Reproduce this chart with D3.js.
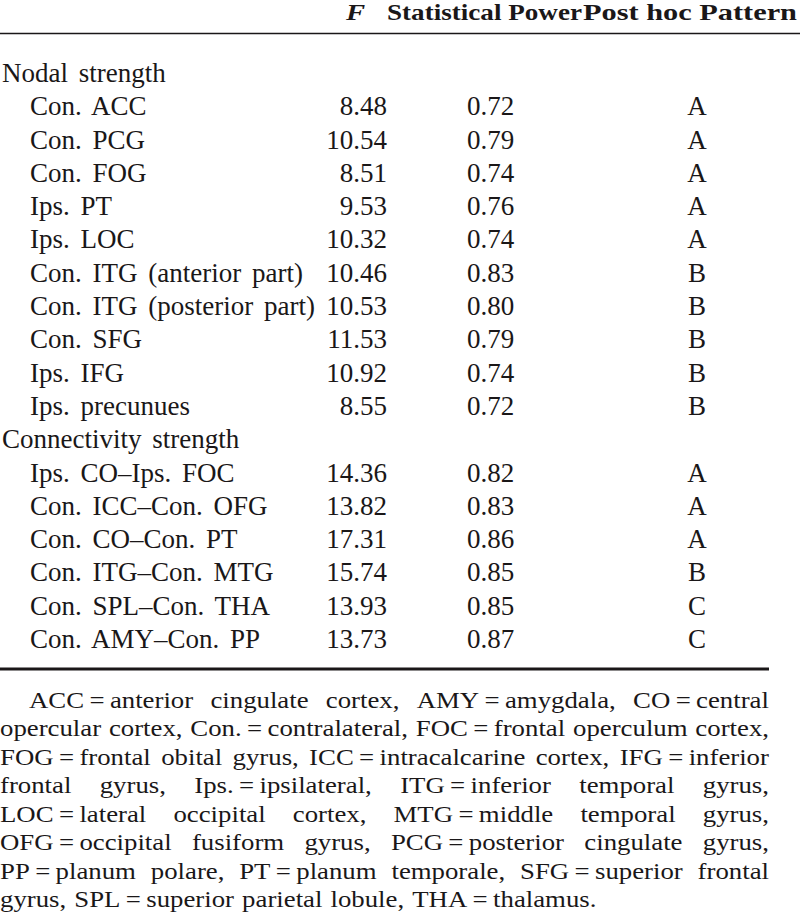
<!DOCTYPE html>
<html>
<head>
<meta charset="utf-8">
<script src="https://cdn.jsdelivr.net/npm/d3@7"></script>
<style>
  html, body { margin: 0; padding: 0; background: #fff; }
  svg { display: block; }
  text { font-family: "Liberation Serif", "Times New Roman", serif; fill: #1a1718; }
</style>
</head>
<body>
<svg id="chart" width="800" height="924"></svg>
<script>
// ---- data ----
const headers = ["F", "Statistical Power", "Post hoc Pattern"];
const sections = ["Nodal strength", "Connectivity strength"];
const nodalLabels = ["Con. ACC", "Con. PCG", "Con. FOG", "Ips. PT", "Ips. LOC",
  "Con. ITG (anterior part)", "Con. ITG (posterior part)", "Con. SFG", "Ips. IFG", "Ips. precunues"];
const nodalF = ["8.48", "10.54", "8.51", "9.53", "10.32", "10.46", "10.53", "11.53", "10.92", "8.55"];
const nodalPower = ["0.72", "0.79", "0.74", "0.76", "0.74", "0.83", "0.80", "0.79", "0.74", "0.72"];
const nodalPattern = ["A", "A", "A", "A", "A", "B", "B", "B", "B", "B"];
const connLabels = ["Ips. CO\u2013Ips. FOC", "Con. ICC\u2013Con. OFG", "Con. CO\u2013Con. PT",
  "Con. ITG\u2013Con. MTG", "Con. SPL\u2013Con. THA", "Con. AMY\u2013Con. PP"];
const connF = ["14.36", "13.82", "17.31", "15.74", "13.93", "13.73"];
const connPower = ["0.82", "0.83", "0.86", "0.85", "0.85", "0.87"];
const connPattern = ["A", "A", "A", "B", "C", "C"];
const footnoteLines = [
  "ACC\u2009=\u2009anterior cingulate cortex, AMY\u2009=\u2009amygdala, CO\u2009=\u2009central",
  "opercular cortex, Con.\u2009=\u2009contralateral, FOC\u2009=\u2009frontal operculum cortex,",
  "FOG\u2009=\u2009frontal obital gyrus, ICC\u2009=\u2009intracalcarine cortex, IFG\u2009=\u2009inferior",
  "frontal gyrus, Ips.\u2009=\u2009ipsilateral, ITG\u2009=\u2009inferior temporal gyrus,",
  "LOC\u2009=\u2009lateral occipital cortex, MTG\u2009=\u2009middle temporal gyrus,",
  "OFG\u2009=\u2009occipital fusiform gyrus, PCG\u2009=\u2009posterior cingulate gyrus,",
  "PP\u2009=\u2009planum polare, PT\u2009=\u2009planum temporale, SFG\u2009=\u2009superior frontal",
  "gyrus, SPL\u2009=\u2009superior parietal lobule, THA\u2009=\u2009thalamus."
];

// ---- build row table ----
const rows = [];
rows.push({type: "section", label: sections[0]});
nodalLabels.forEach((l, i) => rows.push({type: "row", label: l, f: nodalF[i], p: nodalPower[i], pat: nodalPattern[i]}));
rows.push({type: "section", label: sections[1]});
connLabels.forEach((l, i) => rows.push({type: "row", label: l, f: connF[i], p: connPower[i], pat: connPattern[i]}));

const svg = d3.select("#chart");
const SX = 1.0;        // horizontal stretch of body type
const NSX = 1.14;      // horizontal stretch of note type
const bodySize = 27;
const noteSize = 23.5;
const headSize = 23;

const y = d3.scaleLinear().domain([0, rows.length - 1]).range([82, 648]);
const col = d3.scaleOrdinal().domain(["section", "label", "f", "p", "pat"]).range([2, 30, 387, 467, 697]);

function put(sel, x, yy, sx) {
  return sel.attr("transform", `translate(${x},${yy}) scale(${sx},1)`);
}

// header
const hY = 20;
const hg = svg.append("g").style("font-weight", "bold").style("font-size", headSize + "px");
put(hg.append("text").text(headers[0]).style("font-style", "italic"), 346, hY, 1.25);
hg.append("text").text(headers[1]).attr("x", 387).attr("y", hY)
  .attr("textLength", 195).attr("lengthAdjust", "spacingAndGlyphs");
hg.append("text").text(headers[2]).attr("x", 583).attr("y", hY)
  .attr("textLength", 214).attr("lengthAdjust", "spacingAndGlyphs");

// rules
svg.append("line").attr("x1", 0).attr("x2", 800).attr("y1", 33.5).attr("y2", 33.5)
  .attr("stroke", "#1a1718").attr("stroke-width", 1.6);
svg.append("line").attr("x1", 0).attr("x2", 769).attr("y1", 669).attr("y2", 669)
  .attr("stroke", "#1a1718").attr("stroke-width", 3.2);

// body rows
const g = svg.append("g").style("font-size", bodySize + "px").style("word-spacing", "4px");
rows.forEach((r, i) => {
  const yy = y(i);
  if (r.type === "section") {
    put(g.append("text").text(r.label), col("section"), yy, SX);
  } else {
    put(g.append("text").text(r.label), col("label"), yy, SX);
    put(g.append("text").text(r.f).attr("text-anchor", "end"), col("f"), yy, SX);
    put(g.append("text").text(r.p), col("p"), yy, SX);
    put(g.append("text").text(r.pat).attr("text-anchor", "middle"), col("pat"), yy, SX);
  }
});

// footnote (justified)
const noteY = d3.scaleLinear().domain([0, footnoteLines.length - 1]).range([708, 907]);
const left = 0, right = 769, indent = 29;
const ng = svg.append("g").style("font-size", noteSize + "px");
footnoteLines.forEach((line, i) => {
  const words = line.split(" ");
  const x0 = i === 0 ? left + indent : left;
  const texts = words.map(w => ng.append("text").text(w));
  const widths = texts.map(t => t.node().getComputedTextLength() * NSX);
  const total = d3.sum(widths);
  const last = i === footnoteLines.length - 1;
  const gap = last ? 0.3 * noteSize * NSX : (right - x0 - total) / (words.length - 1);
  let x = x0;
  texts.forEach((t, k) => { put(t, x, noteY(i), NSX); x += widths[k] + gap; });
});
</script>
</body>
</html>
